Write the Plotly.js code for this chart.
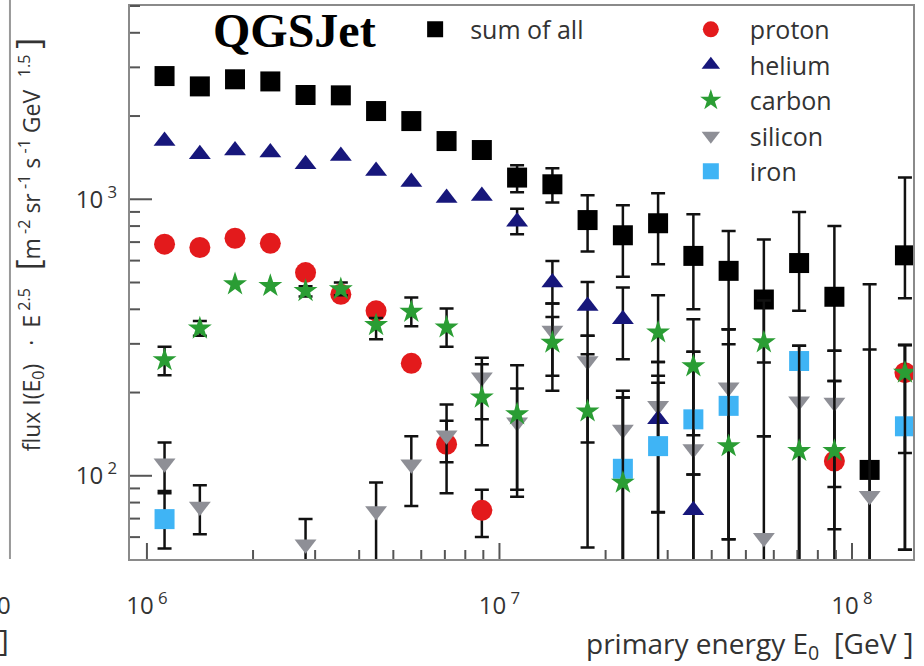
<!DOCTYPE html>
<html>
<head>
<meta charset="utf-8">
<script src="https://cdn.plot.ly/plotly-3.0.1.min.js"></script>
<style>html,body{margin:0;padding:0;background:#fff;}#chart{width:924px;height:666px;}</style>
</head>
<body>
<div id="chart"></div>
<script>
// primary energy bin centres [GeV]
const energyGeV = [1.122e6, 1.413e6, 1.778e6, 2.239e6, 2.818e6, 3.548e6, 4.467e6, 5.623e6, 7.079e6, 8.913e6,
                   1.122e7, 1.413e7, 1.778e7, 2.239e7, 2.818e7, 3.548e7, 4.467e7, 5.623e7, 7.079e7, 8.913e7,
                   1.122e8, 1.413e8];

// flux * E^2.5 values and error-bar bounds (upper / lower), null = none
const sumAll   = [2790, 2560, 2716, 2668, 2383, 2376, 2085, 1918, 1624, 1507, 1198, 1133, 841, 741, 819, 624, 551, 434, 588, 444, 105, 627];
const sumHi    = [null, null, null, null, null, null, null, null, null, null, 1327, 1295, 1034, 951, 1051, 883, 768, 716, 900, 800, 493, 1198];
const sumLo    = [null, null, null, null, null, null, null, null, null, null, 1060, 973, 647, 525, 582, 400, 339, 257, 395, 283, 1, 439];

const proton   = [688, 669, 723, 693, 543, 453, 395, 255, 130, 75, null, null, null, null, null, null, null, null, null, 113, null, 236];
const protonHi = [null, null, null, null, null, null, null, null, 158, 89, null, null, null, null, null, null, null, null, null, 220, null, 297];
const protonLo = [null, null, null, null, null, null, null, null, 112, 60, null, null, null, null, null, null, null, null, null, 91, null, 121];

const helium   = [1625, 1455, 1501, 1475, 1339, 1435, 1266, 1155, 1011, 1028, 830, 500, 411, 368, 160, 75, null, null, null, null, null, null];
const heliumHi = [null, null, null, null, null, null, null, null, null, null, 925, 598, 502, 480, 230, 101, null, null, null, null, null, null];
const heliumLo = [null, null, null, null, null, null, null, null, null, null, 747, 420, 321, 264, 74, 1, null, null, null, null, null, null];

const carbon   = [262, 341, 493, 486, 466, 473, 351, 392, 344, 192, 167, 303, 171, 94.5, 330, 249, 128, 304, 123, 123, null, 236];
const carbonHi = [293, 363, null, null, 485, 500, 372, 441, 403, 253, 251, 375, 275, 192, 450, 368, 339, 430, 295, 283, null, 297];
const carbonLo = [231, 321, null, null, 445, 450, 312, 347, 293, 160, 89, 230, 132, 1, 258, 140, 59, 139, 1, 64, null, 54];

const silicon   = [111, 77.5, null, null, 56.5, null, 74.6, 110, 140, 227, 156, 335, 260, 147, 179, 125, 209, 59.7, 186, 184, 84.6, null];
const siliconHi = [132, 92.5, null, null, 69.7, null, 94.6, 139, 181, 267, 207, 420, 321, 203, 258, 281, 299, 139, 266, 220, 286, null];
const siliconLo = [88, 61.4, null, null, 1, null, 1, 77.8, 86.5, 129, 84, 203, 55, 1, 1, 1, 1, 1, 1, 1, 1, null];

const iron   = [69.7, null, null, null, null, null, null, null, null, null, null, null, null, 106, 128, 160, 179, null, 260, null, null, 151];
const ironHi = [86.5, null, null, null, null, null, null, null, null, null, null, null, null, 192, 217, 281, 339, null, 295, null, null, 297];
const ironLo = [54.6, null, null, null, null, null, null, null, null, null, null, null, null, 1, 73.6, 101, 59, null, 1, null, null, 54];

const seriesNames = ['sum of all', 'proton', 'helium', 'carbon', 'silicon', 'iron'];

// tick positions and labels
const xMajorTicks = [1e6, 1e7, 1e8];
const xMajorLabels = ['10<sup>\u00a06</sup>', '10<sup>\u00a07</sup>', '10<sup>\u00a08</sup>'];
const yMajorTicks = [100, 1000];
const yMajorLabels = ['10<sup>\u00a02</sup>', '10<sup>\u00a03</sup>'];
const xMinorTicks = [2e6, 3e6, 4e6, 5e6, 6e6, 7e6, 8e6, 9e6, 2e7, 3e7, 4e7, 5e7, 6e7, 7e7, 8e7, 9e7, 2e8];
const yMinorTicks = [60, 70, 80, 90, 200, 300, 400, 500, 600, 700, 800, 900, 2000, 3000, 4000, 5000];

const xRange = [5.952, 8.173];
const yRange = [1.699, 3.699];
const plotW = 783, plotH = 553;

function errBars(y, hi, lo) {
  return {
    type: 'data', symmetric: false, visible: true,
    array: hi.map((h, i) => (h == null || y[i] == null) ? NaN : h - y[i]),
    arrayminus: lo.map((l, i) => (l == null || y[i] == null) ? NaN : y[i] - l),
    color: '#111', thickness: 2.5, width: 7
  };
}

function trace(name, y, hi, lo, symbol, color, size, legend, rank) {
  return {
    type: 'scatter', mode: 'markers', name: name, x: energyGeV, y: y,
    marker: {symbol: symbol, color: color, size: size, line: {width: 0}},
    error_y: errBars(y, hi, lo),
    legend: legend, legendrank: rank, cliponaxis: true
  };
}

const data = [
  trace(seriesNames[0], sumAll, sumHi, sumLo, 'square', '#000000', 20, 'legend', 1),
  trace(seriesNames[1], proton, protonHi, protonLo, 'circle', '#e31a1c', 21, 'legend2', 1),
  trace(seriesNames[4], silicon, siliconHi, siliconLo, 'triangle-down', '#8e8f96', 19, 'legend2', 4),
  trace(seriesNames[2], helium, heliumHi, heliumLo, 'triangle-up', '#17177b', 19, 'legend2', 2),
  trace(seriesNames[5], iron, ironHi, ironLo, 'square', '#3fb4f5', 20, 'legend2', 5),
  trace(seriesNames[3], carbon, carbonHi, carbonLo, 'star', '#2a9d34', 18, 'legend2', 3)
];

// tick marks drawn inside the frame (axis decoration)
const tickLine = {color: '#555', width: 2};
const fx = v => (Math.log10(v) - xRange[0]) / (xRange[1] - xRange[0]);
const fy = v => (Math.log10(v) - yRange[0]) / (yRange[1] - yRange[0]);
const tickShapes = [].concat(
  xMajorTicks.map(v => ({type: 'line', xref: 'paper', yref: 'paper', x0: fx(v), x1: fx(v), y0: 0, y1: 16 / plotH, line: tickLine})),
  xMinorTicks.map(v => ({type: 'line', xref: 'paper', yref: 'paper', x0: fx(v), x1: fx(v), y0: 0, y1: 9 / plotH, line: tickLine})),
  yMajorTicks.map(v => ({type: 'line', xref: 'paper', yref: 'paper', x0: 0, x1: 22 / plotW, y0: fy(v), y1: fy(v), line: tickLine})),
  yMinorTicks.map(v => ({type: 'line', xref: 'paper', yref: 'paper', x0: 0, x1: 10 / plotW, y0: fy(v), y1: fy(v), line: tickLine}))
);

const layout = {
  width: 924, height: 666,
  margin: {l: 130, r: 11, t: 6, b: 107},
  paper_bgcolor: '#fff', plot_bgcolor: '#fff',
  showlegend: true,
  xaxis: {type: 'log', range: xRange, showgrid: false, zeroline: false,
          showline: true, mirror: true, linecolor: '#8a8a8a', linewidth: 2,
          tickmode: 'array', tickvals: xMajorTicks, ticktext: xMajorLabels,
          ticks: '', ticklabelstandoff: 24,
          tickfont: {family: 'Open Sans', size: 24, color: '#333'}},
  yaxis: {type: 'log', range: yRange, showgrid: false, zeroline: false,
          showline: true, mirror: true, linecolor: '#8a8a8a', linewidth: 2,
          tickmode: 'array', tickvals: yMajorTicks, ticktext: yMajorLabels,
          ticks: '', ticklabelstandoff: 6,
          tickfont: {family: 'Open Sans', size: 24, color: '#333'}},
  legend: {x: 0.345, y: 0.999, xanchor: 'left', yanchor: 'top', bgcolor: 'rgba(0,0,0,0)',
           font: {family: 'Open Sans', size: 25, color: '#333'}, itemwidth: 60, itemsizing: 'trace'},
  legend2: {x: 0.692, y: 0.999, xanchor: 'left', yanchor: 'top', bgcolor: 'rgba(0,0,0,0)',
            font: {family: 'Open Sans', size: 25, color: '#333'}, itemwidth: 68, itemsizing: 'trace', traceorder: 'normal'},
  shapes: [
    {type: 'line', xref: 'paper', yref: 'paper', x0: -0.1533, x1: -0.1533, y0: 0, y1: 1.02,
     line: {color: '#999', width: 2}}
  ].concat(tickShapes),
  annotations: [
    {text: '<b>QGSJet</b>', xref: 'paper', yref: 'paper', x: 0.21, y: 0.955, xanchor: 'center', yanchor: 'middle',
     showarrow: false, font: {family: 'Liberation Serif', size: 48, color: '#000'}},
    {text: 'flux I(E<sub>0</sub>)\u00a0\u00a0 · \u00a0E<sup>\u00a02.5</sup>\u00a0\u00a0 <span style="font-size:33px">[</span>m<sup>\u00a0-2</sup>\u00a0sr<sup>\u00a0-1</sup>\u00a0s<sup>\u00a0-1</sup>\u00a0GeV<sup>\u00a0\u00a0\u00a01.5</sup>\u00a0<span style="font-size:33px">]</span>',
     xref: 'paper', yref: 'paper', x: -0.131, y: 0.568, xanchor: 'center', yanchor: 'middle', textangle: -90,
     showarrow: false, font: {family: 'Open Sans', size: 23, color: '#333'}},
    {text: 'primary energy E<sub>0</sub>\u00a0\u00a0<span style="font-size:30px">[</span>GeV\u00a0<span style="font-size:30px">]</span>',
     xref: 'paper', yref: 'paper', x: 1.003, y: -0.153, xanchor: 'right', yanchor: 'middle',
     showarrow: false, font: {family: 'Open Sans', size: 28, color: '#333'}},
    {text: '0', xref: 'paper', yref: 'paper', x: -0.150, y: -0.083, xanchor: 'right', yanchor: 'middle',
     showarrow: false, font: {family: 'Open Sans', size: 24, color: '#333'}},
    {text: ']', xref: 'paper', yref: 'paper', x: -0.152, y: -0.146, xanchor: 'right', yanchor: 'middle',
     showarrow: false, font: {family: 'Open Sans', size: 30, color: '#333'}}
  ]
};

Plotly.newPlot('chart', data, layout, {displayModeBar: false, staticPlot: true});
</script>
</body>
</html>
